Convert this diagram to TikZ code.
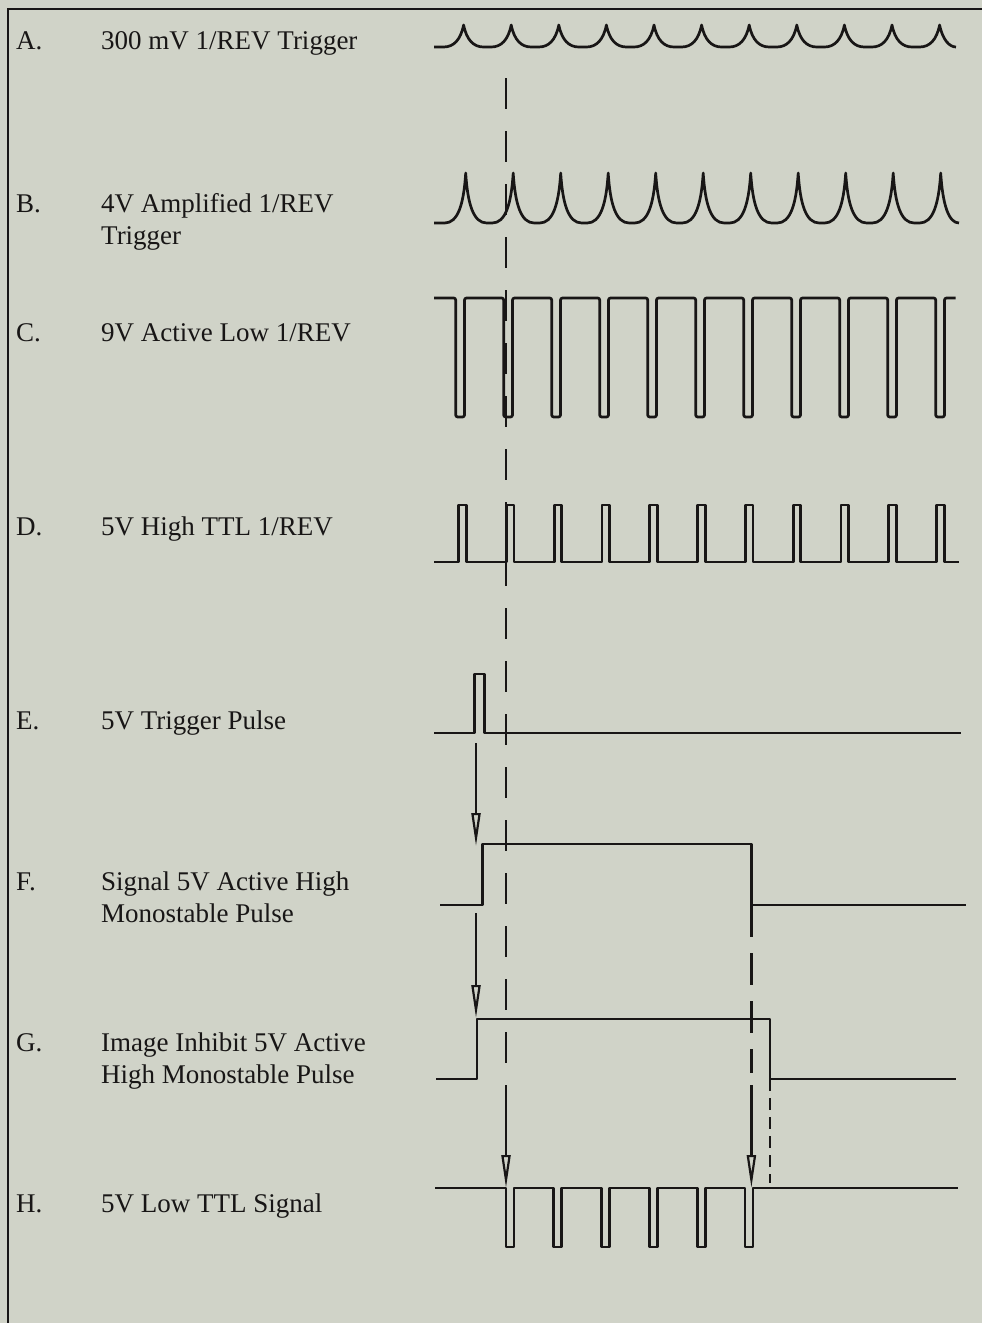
\documentclass[tikz,border=0pt]{standalone}
\usepackage{fontspec}
\setmainfont{Liberation Serif}
\usetikzlibrary{arrows.meta}
\definecolor{paper}{RGB}{208,211,200}
\definecolor{ink}{RGB}{24,22,22}

\begin{document}
\begin{tikzpicture}[x=1pt,y=-1pt,
    wave/.style={ink,line width=2.7pt,line join=round},
    lbl/.style={anchor=base west,inner sep=0pt,text=ink,font=\fontsize{27}{32}\selectfont},
    marker/.style={ink,line width=2.7pt,dash pattern=on 31pt off 22pt},
    shortmarker/.style={ink,line width=2.4pt,dash pattern=on 12pt off 7pt},
    trig/.style={ink,line width=2.2pt,-{Triangle[open,length=33pt,width=9pt]}}]
            \fill[paper] (0,0) rectangle (982,1323);
            \useasboundingbox (0,0) rectangle (982,1323);
            \draw[ink,line width=2.7pt] (8,1330) -- (8,9) -- (990,9);

            \node[lbl] (letA) at (16,49) {A.};
            \node[lbl] (txtA) at (101,49) {300 mV 1/REV Trigger};
            \node[lbl] (letB) at (16,212) {B.};
            \node[lbl] (txtB) at (101,212) {4V Amplified 1/REV};
            \node[lbl] (txtBb) at (101,244) {Trigger};
            \node[lbl] (letC) at (16,341) {C.};
            \node[lbl] (txtC) at (101,341) {9V Active Low 1/REV};
            \node[lbl] (letD) at (16,535) {D.};
            \node[lbl] (txtD) at (101,535) {5V High TTL 1/REV};
            \node[lbl] (letE) at (16,729) {E.};
            \node[lbl] (txtE) at (101,729) {5V Trigger Pulse};
            \node[lbl] (letF) at (16,890) {F.};
            \node[lbl] (txtF) at (101,890) {Signal 5V Active High};
            \node[lbl] (txtFb) at (101,922) {Monostable Pulse};
            \node[lbl] (letG) at (16,1051) {G.};
            \node[lbl] (txtG) at (101,1051) {Image Inhibit 5V Active};
            \node[lbl] (txtGb) at (101,1083) {High Monostable Pulse};
            \node[lbl] (letH) at (16,1212) {H.};
            \node[lbl] (txtH) at (101,1212) {5V Low TTL Signal};

            % A, B: 1/REV cusps
            \draw[wave] (434,47) -- (443.6,47) .. controls (453.6,47) and (460.6,40) .. (463.6,25)
            \foreach \i [evaluate=\i as \c using 463.6+47.6*\i] in {0,...,9} {
              .. controls (\c+3,40) and (\c+10,47) .. (\c+20,47) -- (\c+27.6,47)
              .. controls (\c+37.6,47) and (\c+44.6,40) .. (\c+47.6,25) }
            .. controls (942.6,40) and (949.6,47) .. (956,47);
            \draw[wave] (434,223) -- (444.7,223) .. controls (457.7,223) and (463.7,205) .. (465.7,173)
            \foreach \i [evaluate=\i as \c using 465.7+47.5*\i] in {0,...,9} {
              .. controls (\c+2,205) and (\c+8,223) .. (\c+21,223) -- (\c+26.5,223)
              .. controls (\c+39.5,223) and (\c+45.5,205) .. (\c+47.5,173) }
            .. controls (942.7,205) and (948.7,223) .. (959,223);

            % C
            \draw[wave,rounded corners=2pt] (434,298) -- ++(21.7,0) -- ++(0,119) -- ++(8.8,0)
            -- ++(0,-119) -- ++(39.2,0) -- ++(0,119) -- ++(8.8,0) -- ++(0,-119) -- ++(39.2,0)
            -- ++(0,119) -- ++(8.8,0) -- ++(0,-119) -- ++(39.2,0) -- ++(0,119) -- ++(8.8,0)
            -- ++(0,-119) -- ++(39.2,0) -- ++(0,119) -- ++(8.8,0) -- ++(0,-119) -- ++(39.2,0)
            -- ++(0,119) -- ++(8.8,0) -- ++(0,-119) -- ++(39.2,0) -- ++(0,119) -- ++(8.8,0)
            -- ++(0,-119) -- ++(39.2,0) -- ++(0,119) -- ++(8.8,0) -- ++(0,-119) -- ++(39.2,0)
            -- ++(0,119) -- ++(8.8,0) -- ++(0,-119) -- ++(39.2,0) -- ++(0,119) -- ++(8.8,0)
            -- ++(0,-119) -- ++(39.2,0) -- ++(0,119) -- ++(8.8,0) -- ++(0,-119) -- ++(11.2,0);

            % D
            \draw[wave] (434,562) -- ++(24.6,0) -- ++(0,-57) -- ++(7.6,0) -- ++(0,57)
            -- ++(40.2,0) -- ++(0,-57) -- ++(7.6,0) -- ++(0,57) -- ++(40.2,0) -- ++(0,-57)
            -- ++(7.6,0) -- ++(0,57) -- ++(40.2,0) -- ++(0,-57) -- ++(7.6,0) -- ++(0,57)
            -- ++(40.2,0) -- ++(0,-57) -- ++(7.6,0) -- ++(0,57) -- ++(40.2,0) -- ++(0,-57)
            -- ++(7.6,0) -- ++(0,57) -- ++(40.2,0) -- ++(0,-57) -- ++(7.6,0) -- ++(0,57)
            -- ++(40.2,0) -- ++(0,-57) -- ++(7.6,0) -- ++(0,57) -- ++(40.2,0) -- ++(0,-57)
            -- ++(7.6,0) -- ++(0,57) -- ++(40.2,0) -- ++(0,-57) -- ++(7.6,0) -- ++(0,57)
            -- ++(40.2,0) -- ++(0,-57) -- ++(7.6,0) -- ++(0,57) -- ++(14.8,0);

            % E, F, G
            \draw[wave] (434,733) -- (474.3,733) -- (474.3,674) -- (484.3,674) -- (484.3,733) -- (961,733);
            \draw[wave] (440,905) -- (482.5,905) -- (482.5,844) -- (751.4,844) -- (751.4,905) -- (966,905);
            \draw[wave] (436,1079) -- (477,1079) -- (477,1019) -- (770,1019) -- (770,1079) -- (956,1079);

            % H
            \draw[wave] (435,1188) -- ++(71,0) -- ++(0,59) -- ++(8,0) -- ++(0,-59) -- ++(39.8,0)
            -- ++(0,59) -- ++(8,0) -- ++(0,-59) -- ++(39.8,0) -- ++(0,59) -- ++(8,0)
            -- ++(0,-59) -- ++(39.8,0) -- ++(0,59) -- ++(8,0) -- ++(0,-59) -- ++(39.8,0)
            -- ++(0,59) -- ++(8,0) -- ++(0,-59) -- ++(39.8,0) -- ++(0,59) -- ++(8,0)
            -- ++(0,-59) -- ++(205,0);

            \coordinate (trigE) at (476,743);
            \coordinate (riseF) at (476,846);
            \coordinate (startF) at (476,913);
            \coordinate (riseG) at (476,1018);
            \coordinate (markTop) at (506,78);
            \coordinate (markEnd) at (506,1070);
            \coordinate (markShaft) at (506,1085);
            \coordinate (fallH) at (506,1188);
            \coordinate (fallF) at (751.4,905);
            \coordinate (fallEnd) at (751.4,1073);
            \coordinate (endShaft) at (751.4,1085);
            \coordinate (riseH) at (751.4,1188);
            \coordinate (fallG) at (770,1079);
            \coordinate (fallGend) at (770,1183);

            \draw[marker] (markTop) -- (markEnd);
            \draw[marker,dash pattern=on 32pt off 16pt] (fallF) -- (fallEnd);
            \draw[shortmarker] (fallG) -- (fallGend);
            \draw[trig] (trigE) -- (riseF);
            \draw[trig] (startF) -- (riseG);
            \draw[trig] (markShaft) -- (fallH);
            \draw[trig] (endShaft) -- (riseH);
        \end{tikzpicture}
\end{document}
